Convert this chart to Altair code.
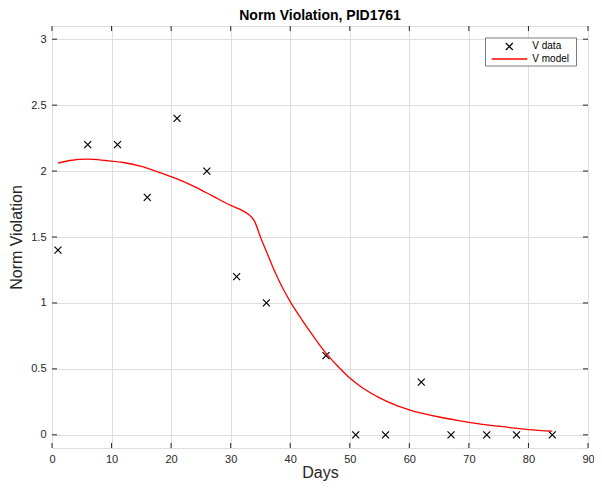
import altair as alt
import pandas as pd

# ---- data ----
days = [1, 6, 11, 16, 21, 26, 31, 36, 46, 51, 56, 62, 67, 73, 78, 84]
v_data = [1.4, 2.2, 2.2, 1.8, 2.4, 2.0, 1.2, 1.0, 0.6, 0.0, 0.0, 0.4, 0.0, 0.0, 0.0, 0.0]

model_days = [1, 3, 6, 9, 12, 15, 18, 21, 24, 27, 30, 32, 33.3, 34, 35, 36, 37, 38, 39, 40,
              42, 44, 46, 48, 50, 52, 55, 58, 60, 62, 65, 68, 70, 75, 80, 84]
v_model = [2.06, 2.08, 2.09, 2.08, 2.065, 2.035, 1.99, 1.94, 1.88, 1.81, 1.74, 1.70, 1.66, 1.62,
           1.50, 1.39, 1.28, 1.18, 1.09, 1.01, 0.87, 0.74, 0.62, 0.52, 0.43, 0.36, 0.28, 0.22,
           0.19, 0.165, 0.135, 0.11, 0.095, 0.065, 0.04, 0.028]

x_ticks = [0, 10, 20, 30, 40, 50, 60, 70, 80, 90]
y_ticks = [0, 0.5, 1, 1.5, 2, 2.5, 3]
legend_labels = ["V data", "V model"]

# ---- styling ----
W, H = 536, 422
FONT = "Liberation Sans"
AX = "#262626"
CROSS = "M-1,-1L1,1M-1,1L1,-1"

x_scale = alt.Scale(domain=[0, 90], nice=False, zero=False)
y_scale = alt.Scale(domain=[-0.1, 3.1], nice=False, zero=False)

pts_df = pd.DataFrame({"Days": days, "V": v_data})
model_df = pd.DataFrame({"Days": model_days, "V": v_model})
xt_df = pd.DataFrame({"t": x_ticks})
yt_df = pd.DataFrame({"t": y_ticks})
one = pd.DataFrame({"a": [0]})

x_axis = alt.Axis(values=x_ticks, grid=True, ticks=False, domain=False, labelPadding=5,
                  title="Days", titlePadding=0, labelFontSize=11, titleFontSize=16,
                  titleFontWeight="normal", labelFont=FONT, titleFont=FONT, format="d",
                  labelColor=AX, titleColor=AX, gridColor="#dedede", labelFlush=False)
y_axis = alt.Axis(values=y_ticks, grid=True, ticks=False, domain=False, labelPadding=6,
                  title="Norm Violation", titlePadding=6, labelFontSize=11, titleFontSize=16,
                  titleFontWeight="normal", labelFont=FONT, titleFont=FONT, format="~g",
                  labelColor=AX, titleColor=AX, gridColor="#dedede", labelFlush=False)

points = alt.Chart(pts_df).mark_point(
    shape=CROSS, filled=False, size=49, stroke="black", strokeWidth=1.2, opacity=1
).encode(
    x=alt.X("Days:Q", scale=x_scale, axis=x_axis),
    y=alt.Y("V:Q", scale=y_scale, axis=y_axis),
)

model = alt.Chart(model_df).mark_line(color="red", strokeWidth=1.3, interpolate="monotone").encode(
    x=alt.X("Days:Q", scale=x_scale, axis=x_axis),
    y=alt.Y("V:Q", scale=y_scale, axis=y_axis),
)

tick_style = dict(color=AX, strokeWidth=1)
xt_bottom = alt.Chart(xt_df).mark_rule(**tick_style).encode(
    x=alt.X("t:Q", scale=x_scale, axis=x_axis), y=alt.value(H), y2=alt.value(H - 5))
xt_top = alt.Chart(xt_df).mark_rule(**tick_style).encode(
    x=alt.X("t:Q", scale=x_scale, axis=x_axis), y=alt.value(0), y2=alt.value(5))
yt_left = alt.Chart(yt_df).mark_rule(**tick_style).encode(
    y=alt.Y("t:Q", scale=y_scale, axis=y_axis), x=alt.value(0), x2=alt.value(5))
yt_right = alt.Chart(yt_df).mark_rule(**tick_style).encode(
    y=alt.Y("t:Q", scale=y_scale, axis=y_axis), x=alt.value(W - 5), x2=alt.value(W))

# ---- legend (drawn box, top-right) ----
leg_box = alt.Chart(one).mark_rect(fill="white", stroke=AX, strokeWidth=0.6).encode(
    x=alt.value(433.5), x2=alt.value(524.5), y=alt.value(12), y2=alt.value(40))
leg_cross = alt.Chart(one).mark_point(
    shape=CROSS, filled=False, size=49, stroke="black", strokeWidth=1.2, opacity=1
).encode(x=alt.value(457.3), y=alt.value(20.5))
leg_line = alt.Chart(one).mark_rule(color="red", strokeWidth=1.3).encode(
    x=alt.value(439.7), x2=alt.value(475.3), y=alt.value(33))
leg_t1 = alt.Chart(one).mark_text(align="left", baseline="middle", fontSize=10, font=FONT,
                                  color="black").encode(
    x=alt.value(480.3), y=alt.value(20.3), text=alt.value(legend_labels[0]))
leg_t2 = alt.Chart(one).mark_text(align="left", baseline="middle", fontSize=10, font=FONT,
                                  color="black").encode(
    x=alt.value(480.3), y=alt.value(32.8), text=alt.value(legend_labels[1]))

chart = alt.layer(
    points, model, xt_bottom, xt_top, yt_left, yt_right,
    leg_box, leg_cross, leg_line, leg_t1, leg_t2
).properties(
    width=W, height=H,
    title=alt.TitleParams("Norm Violation, PID1761", fontSize=14, fontWeight="bold",
                          font=FONT, offset=3, anchor="middle", color="black"),
    autosize=alt.AutoSizeParams(type="none"),
    padding={"left": 44, "top": 18, "right": 6, "bottom": 35},
).configure_view(
    stroke=AX, strokeWidth=1
).configure(background="white")

chart.save("out.html", embed_options={"renderer": "svg", "actions": False})
